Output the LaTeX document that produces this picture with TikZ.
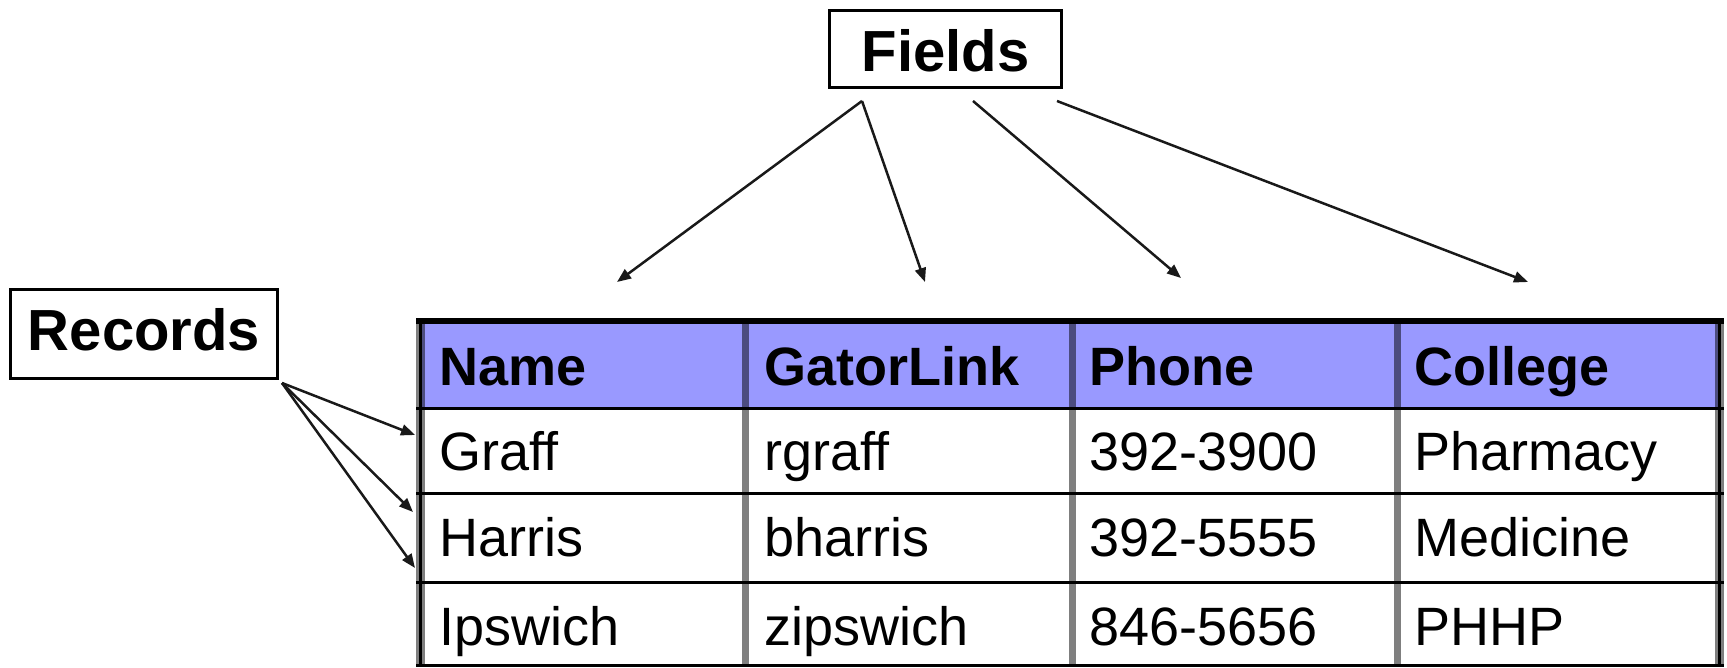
\documentclass[tikz,border=0pt]{standalone}
\usepackage{fontspec}
\setmainfont{Liberation Sans}
\usetikzlibrary{arrows.meta}
\definecolor{hdr}{RGB}{153,153,255}
\begin{document}
\begin{tikzpicture}[x=1pt,y=-1pt,
  lbl/.style={draw=black, line width=3pt, font=\fontsize{58}{64}\selectfont\bfseries, inner sep=0pt},
  arr/.style={draw=black!90, line width=2.5pt, -{Triangle[length=14pt,width=11pt]}},
  hd/.style={anchor=base west, inner sep=0pt, font=\fontsize{54}{60}\selectfont\bfseries},
  cell/.style={anchor=base west, inner sep=0pt, font=\fontsize{54}{60}\selectfont},
  vline/.style={draw=black, draw opacity=0.5, line width=7pt},
  hline/.style={draw=black, line width=3pt},
  border/.style={draw=black, line width=3pt}]
\useasboundingbox (0,0) rectangle (1727,667);

% header fill
\fill[hdr] (420.5,321) rectangle (1719.5,408.5);
% vertical grid lines
\foreach \x in {745.5,1072.5,1397} \draw[vline] (\x,321) -- (\x,667);
\foreach \x in {420.5,1719.5} \draw[vline, line width=9pt] (\x,318) -- (\x,667);
% horizontal lines
\draw[draw=black, line width=6pt] (416,321) -- (1724,321);
\foreach \y in {408.5,493.5,582.5,665.5} \draw[hline] (416,\y) -- (1724,\y);
% outer borders
\draw[border] (420.5,318) -- (420.5,667);
\draw[border] (1719.5,318) -- (1719.5,667);

% header
\node[hd] (hname) at (439,385) {Name};
\node[hd] (hgator) at (764,385) {GatorLink};
\node[hd] (hphone) at (1089,385) {Phone};
\node[hd] (hcollege) at (1414.5,385) {College};
% rows
\node[cell] (n1) at (439,470) {Graff};
\node[cell] (g1) at (764,470) {rgraff};
\node[cell] (p1) at (1089,470) {392-3900};
\node[cell] (c1) at (1414.5,470) {Pharmacy};
\node[cell] (n2) at (439,556.5) {Harris};
\node[cell] (g2) at (764,556.5) {bharris};
\node[cell] (p2) at (1089,556.5) {392-5555};
\node[cell] (c2) at (1414.5,556.5) {Medicine};
\node[cell] (n3) at (439,645) {Ipswich};
\node[cell] (g3) at (764,645) {zipswich};
\node[cell] (p3) at (1089,645) {846-5656};
\node[cell] (c3) at (1414.5,645) {PHHP};

% label boxes
\node[lbl, minimum width=232pt, minimum height=77pt, text height=45.4pt, text depth=0pt] (fields) at (945.5,49) {Fields};
\node[lbl, minimum width=267pt, minimum height=89pt, text height=41.5pt, text depth=9.5pt] (records) at (144,334) {Records};

% connector ends
\coordinate (fs1) at (862,101);
\coordinate (fs3) at (973,101);
\coordinate (fs4) at (1057,101);
\coordinate (fe1) at (617,282);
\coordinate (fe2) at (925,282);
\coordinate (fe3) at (1181,278);
\coordinate (fe4) at (1528,282);
\coordinate (rs) at (282,383);
\coordinate (re1) at (415,435);
\coordinate (re2) at (413,512);
\coordinate (re3) at (415,568);

\draw[arr] (fs1) -- (fe1);
\draw[arr] (fs1) -- (fe2);
\draw[arr] (fs3) -- (fe3);
\draw[arr] (fs4) -- (fe4);
\draw[arr] (rs) -- (re1);
\draw[arr] (rs) -- (re2);
\draw[arr] (rs) -- (re3);
\end{tikzpicture}
\end{document}
